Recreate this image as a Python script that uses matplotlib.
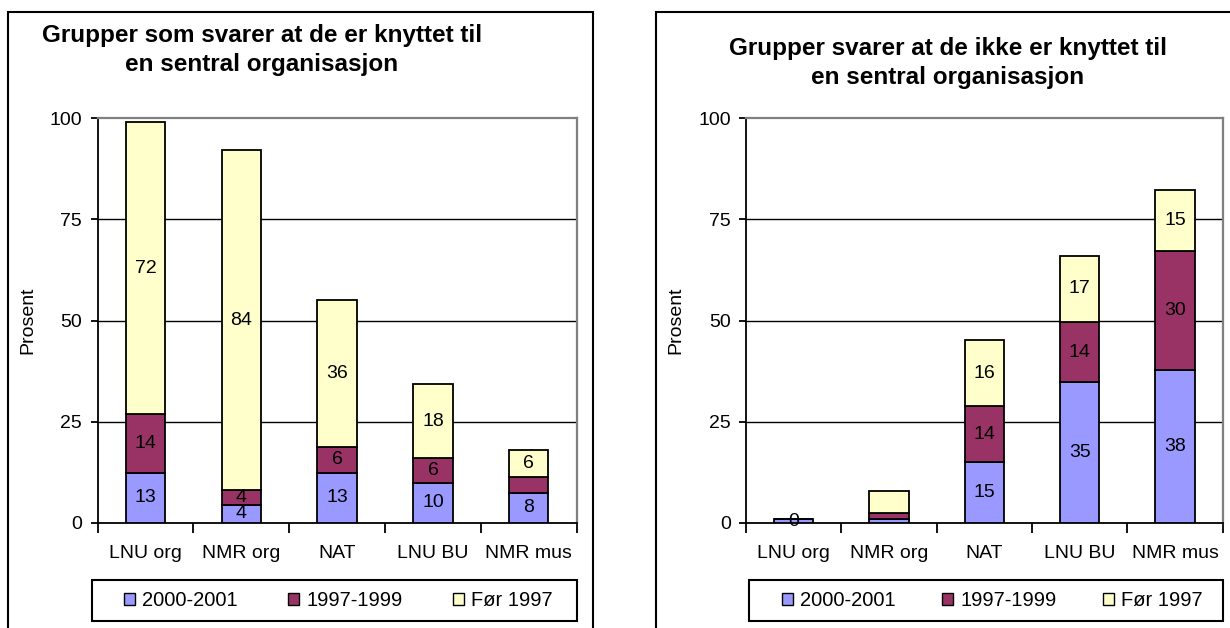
import matplotlib
matplotlib.use("Agg")
import matplotlib.pyplot as plt
from matplotlib.patches import Rectangle, Patch
import numpy as np

plt.rcParams['font.family'] = ['Liberation Sans', 'DejaVu Sans']

# ---------------- data ----------------
categories = ['LNU org', 'NMR org', 'NAT', 'LNU BU', 'NMR mus']
series_names = ['2000-2001', '1997-1999', 'Før 1997']
colors = ['#9999FF', '#993366', '#FFFFCC']

left_title = 'Grupper som svarer at de er knyttet til\nen sentral organisasjon'
left_2000 = [12.4, 4.5, 12.4, 9.9, 7.4]
left_1997 = [14.4, 3.5, 6.4, 6.0, 4.0]
left_pre = [72.2, 84.1, 36.3, 18.3, 6.5]
left_lab_2000 = ['13', '4', '13', '10', '8']
left_lab_1997 = ['14', '4', '6', '6', '']
left_lab_pre = ['72', '84', '36', '18', '6']

right_title = 'Grupper svarer at de ikke er knyttet til\nen sentral organisasjon'
right_2000 = [0.8, 0.8, 14.9, 34.7, 37.7]
right_1997 = [0.0, 1.7, 13.9, 14.9, 29.6]
right_pre = [0.0, 5.4, 16.3, 16.4, 15.0]
right_lab_2000 = ['0', '', '15', '35', '38']
right_lab_1997 = ['', '', '14', '14', '30']
right_lab_pre = ['', '', '16', '17', '15']

y_ticks = [0, 25, 50, 75, 100]
y_label = 'Prosent'

# ---------------- layout ----------------
W, H = 1230, 628
fig = plt.figure(figsize=(W / 100, H / 100), dpi=100)
fig.patch.set_facecolor('white')


def fx(px):
    return px / W


def fy(py):
    return 1 - py / H


def make_panel(ax_box, frame_box, legend_box, legend_inner, title_xy, title,
               s1, s2, s3, l1, l2, l3, ylabel_x):
    x0, y0, x1, y1 = ax_box
    ax = fig.add_axes([fx(x0), fy(y1), (x1 - x0) / W, (y1 - y0) / H])
    x = np.arange(len(categories))
    bottoms = np.zeros(len(categories))
    for vals, labs, col in zip([s1, s2, s3], [l1, l2, l3], colors):
        bars = ax.bar(x, vals, width=0.41, bottom=bottoms, color=col,
                      edgecolor='black', linewidth=1.3, zorder=3)
        ax.bar_label(bars, labels=labs, label_type='center', fontsize=14,
                     color='black', zorder=4)
        bottoms = bottoms + np.array(vals)

    ax.set_xlim(-0.5, len(categories) - 0.5)
    ax.set_ylim(0, 100)
    ax.set_yticks(y_ticks)
    ax.tick_params(axis='y', labelsize=14, length=5, width=1.3, pad=6)
    ax.set_xticks(x)
    ax.set_xticklabels(categories)
    ax.tick_params(axis='x', which='major', length=0, labelsize=14, pad=16)
    ax.set_xticks(np.arange(-0.5, len(categories)), minor=True)
    ax.tick_params(axis='x', which='minor', length=7, width=1.3)
    for yv in y_ticks[1:-1]:
        ax.axhline(yv, color='black', linewidth=1.0, zorder=1)
    ax.spines['left'].set_linewidth(1.3)
    ax.spines['bottom'].set_linewidth(1.3)
    for s in ['top', 'right']:
        ax.spines[s].set_color('#808080')
        ax.spines[s].set_linewidth(1.6)
    ax.set_ylabel(y_label, fontsize=14)
    ax.yaxis.set_label_coords((ylabel_x - x0) / (x1 - x0), 0.5)
    ax.yaxis.label.set_va('center')

    # title
    fig.text(fx(title_xy[0]), fy(title_xy[1]), title, ha='center', va='center',
             fontsize=17.5, fontweight='bold', linespacing=1.3)

    # outer chart frame
    fx0, fy0, fx1, fy1 = frame_box
    fig.add_artist(Rectangle((fx(fx0), fy(fy1)), (fx1 - fx0) / W, (fy1 - fy0) / H,
                             transform=fig.transFigure, fill=False,
                             edgecolor='black', linewidth=1.5, clip_on=False))
    # legend box
    lx0, ly0, lx1, ly1 = legend_box
    fig.add_artist(Rectangle((fx(lx0), fy(ly1)), (lx1 - lx0) / W, (ly1 - ly0) / H,
                             transform=fig.transFigure, fill=False,
                             edgecolor='black', linewidth=1.5))
    handles = [Patch(facecolor=c, edgecolor='black', linewidth=1.0) for c in colors]
    ix0, ix1 = legend_inner
    ax.legend(handles, series_names, ncol=3, mode='expand', loc='center',
              bbox_to_anchor=(fx(ix0), fy(ly1), (ix1 - ix0) / W, (ly1 - ly0) / H),
              bbox_transform=fig.transFigure, frameon=False, borderpad=0,
              borderaxespad=0, handlelength=0.55, handleheight=0.6,
              handletextpad=0.35, fontsize=14.5)
    return ax


make_panel((97.5, 118.3, 576.7, 522.7), (8, 12, 593, 660), (92, 580, 577, 621),
           (124, 553), (262, 50), left_title,
           left_2000, left_1997, left_pre,
           left_lab_2000, left_lab_1997, left_lab_pre, 28)

make_panel((746, 118.3, 1222.7, 522.7), (656, 12, 1260, 660), (749, 580, 1223, 621),
           (782, 1203), (948, 63), right_title,
           right_2000, right_1997, right_pre,
           right_lab_2000, right_lab_1997, right_lab_pre, 676)

fig.savefig('out.png', dpi=100, facecolor='white')
